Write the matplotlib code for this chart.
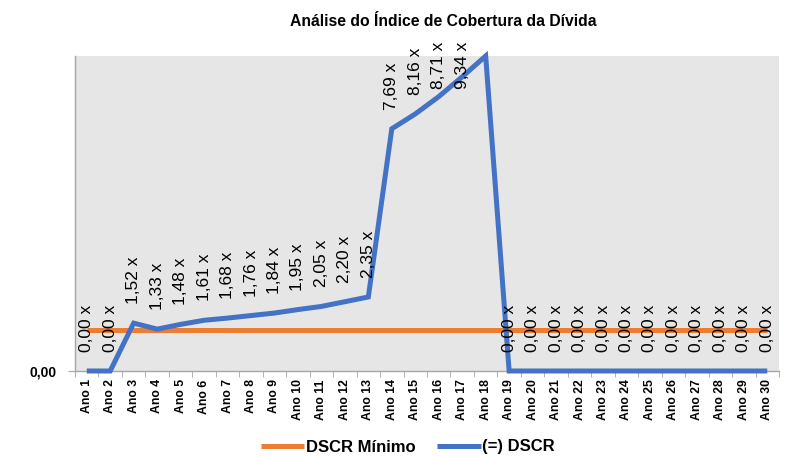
import matplotlib
matplotlib.use("Agg")
import matplotlib.pyplot as plt
import numpy as np

categories = [f"Ano {i}" for i in range(1, 31)]
dscr = [0.00, 0.00, 1.52, 1.33, 1.48, 1.61, 1.68, 1.76, 1.84, 1.95, 2.05, 2.20,
        2.35, 7.69, 8.16, 8.71, 9.34, 10.00, 0.00, 0.00, 0.00, 0.00, 0.00, 0.00,
        0.00, 0.00, 0.00, 0.00, 0.00, 0.00]
dscr_min = [1.30] * 30

ORANGE = "#ED7D31"
BLUE = "#4472C4"
FONT = "Liberation Sans"

W, H = 801, 457
fig = plt.figure(figsize=(W/100, H/100), dpi=100)
ax_left, ax_top, ax_right, ax_bottom = 75, 56, 779, 371
ax = fig.add_axes([ax_left/W, 1-ax_bottom/H, (ax_right-ax_left)/W, (ax_bottom-ax_top)/H])
ax.set_facecolor("#E6E6E6")

x = np.arange(len(categories))
ax.plot(x, dscr_min, color=ORANGE, lw=3.6, solid_capstyle="butt", label="DSCR Mínimo", zorder=3)
ax.plot(x, dscr, color=BLUE, lw=3.6, solid_capstyle="butt", solid_joinstyle="miter",
        label="(=) DSCR", zorder=4, clip_on=False)

ymax = 10.0
ax.set_xlim(-0.5, len(categories) - 0.5)
ax.set_ylim(0, ymax)

# data units per pixel
dpp = ymax / (ax_bottom - ax_top)
label_gap = 19 * dpp
label_cap = (ax_bottom - 89) * dpp  # labels cannot rise above the chart area

for xi, v in zip(x, dscr):
    if v >= ymax:
        continue
    ax.text(xi, min(v + label_gap, label_cap), f"{v:.2f}".replace(".", ",") + " x",
            rotation=90, ha="center", va="bottom", fontsize=12.5, family=FONT,
            color="black", clip_on=False, zorder=5)

ax.set_xticks(x)
ax.set_xticklabels(categories, rotation=90, fontsize=8.8, fontweight="bold", family=FONT)
ax.tick_params(axis="x", which="major", length=0, pad=6)
ax.set_xticks(np.arange(-0.5, len(categories)), minor=True)
ax.tick_params(axis="x", which="minor", length=4, color="#A6A6A6", direction="out")

ax.set_yticks([0])
ax.set_yticklabels(["0,00"], fontsize=10, fontweight="bold", family=FONT)
ax.tick_params(axis="y", length=5, color="#A6A6A6", pad=8)

for s in ["top", "right"]:
    ax.spines[s].set_visible(False)
for s in ["left", "bottom"]:
    ax.spines[s].set_color("#A6A6A6")
    ax.spines[s].set_linewidth(1.0)

fig.text(443/W, 1-22/H, "Análise do Índice de Cobertura da Dívida", ha="center",
         va="center", fontsize=11.3, fontweight="bold", family=FONT)

leg = fig.legend(loc="center", bbox_to_anchor=(408/W, 1-447/H), ncol=2,
                 frameon=False, prop={"family": FONT, "weight": "bold", "size": 12},
                 handlelength=2.6, handletextpad=0.1, columnspacing=1.3,
                 borderpad=0, borderaxespad=0)

fig.savefig("out.png", dpi=100)
